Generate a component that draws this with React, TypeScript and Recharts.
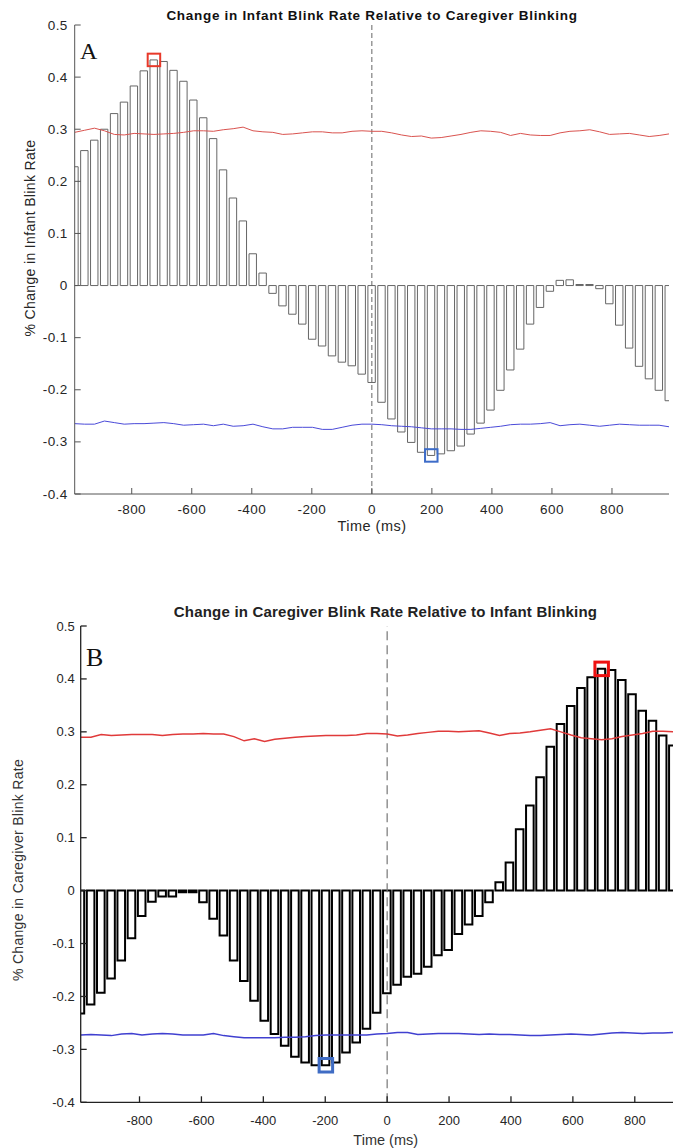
import React from 'react';
import { ComposedChart, Bar, Line, XAxis, YAxis, ReferenceLine, ReferenceDot } from 'recharts';

// Bin centres (ms)
const times = [
  -990, -957, -924, -891, -858, -825, -792, -759, -726, -693, -660, -627, -594, -561, -528, -495,
  -462, -429, -396, -363, -330, -297, -264, -231, -198, -165, -132, -99, -66, -33, 0, 33, 66, 99,
  132, 165, 198, 231, 264, 297, 330, 363, 396, 429, 462, 495, 528, 561, 594, 627, 660, 693, 726,
  759, 792, 825, 858, 891, 924, 957, 990,
];

// Panel A: infant blink rate relative to caregiver blinking
const infantChange = [
  0.228, 0.259, 0.279, 0.3, 0.33, 0.352, 0.383, 0.412, 0.433, 0.43, 0.413, 0.392, 0.356, 0.322, 0.282, 0.222,
  0.168, 0.124, 0.061, 0.024, -0.015, -0.039, -0.055, -0.074, -0.103, -0.116, -0.135, -0.147, -0.154, -0.17,
  -0.186, -0.224, -0.256, -0.281, -0.301, -0.32, -0.326, -0.323, -0.317, -0.308, -0.285, -0.264, -0.239,
  -0.201, -0.162, -0.122, -0.074, -0.042, -0.011, 0.01, 0.011, 0.002, 0.002, -0.006, -0.035, -0.076, -0.12,
  -0.155, -0.179, -0.201, -0.221,
];
const infantUpper = [
  0.294, 0.298, 0.302, 0.297, 0.29, 0.289, 0.292, 0.291, 0.29, 0.291, 0.292, 0.294, 0.297, 0.297, 0.296, 0.299,
  0.301, 0.304, 0.297, 0.295, 0.294, 0.29, 0.291, 0.293, 0.295, 0.295, 0.293, 0.293, 0.296, 0.297, 0.296, 0.296,
  0.293, 0.289, 0.286, 0.287, 0.283, 0.284, 0.287, 0.29, 0.294, 0.297, 0.296, 0.294, 0.288, 0.292, 0.289, 0.288,
  0.288, 0.293, 0.296, 0.297, 0.299, 0.295, 0.29, 0.291, 0.292, 0.289, 0.286, 0.288, 0.291,
];
const infantLower = [
  -0.265, -0.266, -0.266, -0.26, -0.263, -0.266, -0.265, -0.265, -0.264, -0.263, -0.265, -0.268, -0.267, -0.266,
  -0.269, -0.266, -0.27, -0.269, -0.266, -0.271, -0.275, -0.275, -0.272, -0.272, -0.272, -0.276, -0.276, -0.272,
  -0.268, -0.266, -0.266, -0.267, -0.269, -0.27, -0.271, -0.273, -0.275, -0.275, -0.275, -0.276, -0.276, -0.274,
  -0.272, -0.27, -0.267, -0.266, -0.266, -0.265, -0.263, -0.269, -0.267, -0.266, -0.268, -0.27, -0.268, -0.266,
  -0.267, -0.268, -0.268, -0.268, -0.271,
];
const infantPeak = [-726, 0.433];
const infantTrough = [198, -0.326];

// Panel B: caregiver blink rate relative to infant blinking
const caregiverChange = [
  -0.232, -0.215, -0.193, -0.166, -0.132, -0.09, -0.048, -0.021, -0.011, -0.011, -0.003, -0.003, -0.022, -0.053,
  -0.085, -0.132, -0.171, -0.208, -0.246, -0.271, -0.293, -0.314, -0.325, -0.33, -0.33, -0.325, -0.306, -0.287,
  -0.261, -0.231, -0.194, -0.178, -0.163, -0.157, -0.144, -0.122, -0.112, -0.082, -0.064, -0.048, -0.022, 0.016,
  0.053, 0.116, 0.161, 0.214, 0.272, 0.315, 0.349, 0.383, 0.403, 0.419, 0.417, 0.398, 0.371, 0.34, 0.321, 0.293,
  0.274, 0.256, 0.24,
];
const caregiverUpper = [
  0.29, 0.29, 0.295, 0.293, 0.294, 0.295, 0.295, 0.295, 0.293, 0.295, 0.296, 0.296, 0.297, 0.296, 0.296, 0.291,
  0.283, 0.287, 0.282, 0.286, 0.288, 0.29, 0.291, 0.292, 0.293, 0.293, 0.293, 0.294, 0.297, 0.297, 0.296, 0.292,
  0.294, 0.297, 0.299, 0.301, 0.301, 0.3, 0.301, 0.302, 0.298, 0.293, 0.297, 0.298, 0.3, 0.303, 0.306, 0.3, 0.294,
  0.289, 0.287, 0.285, 0.287, 0.291, 0.294, 0.297, 0.301, 0.301, 0.3, 0.3, 0.3,
];
const caregiverLower = [
  -0.273, -0.272, -0.273, -0.274, -0.271, -0.27, -0.273, -0.271, -0.27, -0.271, -0.273, -0.273, -0.273, -0.27,
  -0.274, -0.276, -0.278, -0.278, -0.278, -0.278, -0.277, -0.277, -0.276, -0.274, -0.273, -0.273, -0.273, -0.273,
  -0.273, -0.271, -0.27, -0.268, -0.268, -0.272, -0.271, -0.27, -0.27, -0.27, -0.271, -0.272, -0.271, -0.272,
  -0.272, -0.273, -0.274, -0.274, -0.273, -0.272, -0.271, -0.272, -0.273, -0.271, -0.269, -0.268, -0.269, -0.27,
  -0.269, -0.269, -0.268, -0.268, -0.268,
];
const caregiverPeak = [693, 0.419];
const caregiverTrough = [-198, -0.33];

const xTicks = [-800, -600, -400, -200, 0, 200, 400, 600, 800];
const yTicks = [-0.4, -0.3, -0.2, -0.1, 0, 0.1, 0.2, 0.3, 0.4, 0.5];

const titleA = 'Change in Infant Blink Rate Relative to Caregiver Blinking';
const titleB = 'Change in Caregiver Blink Rate Relative to Infant Blinking';
const yLabelA = '% Change in Infant Blink Rate';
const yLabelB = '% Change in Caregiver Blink Rate';
const xLabel = 'Time (ms)';

const dataA = times.map((t, i) => ({ t, change: infantChange[i], upper: infantUpper[i], lower: infantLower[i] }));
const dataB = times.map((t, i) => ({ t, change: caregiverChange[i], upper: caregiverUpper[i], lower: caregiverLower[i] }));

const SANS = '"Liberation Sans", Arial, Helvetica, sans-serif';
const SERIF = '"Liberation Serif", "Times New Roman", serif';

const fmtY = (v: number) => (v === 0 ? '0' : v.toFixed(1));

type TickStyle = { axis: string; w: number; len: number; gap: number; fs: number; ls: number; dy: number };

const makeYTick = (s: TickStyle) => (props: any) => {
  const { x, y, payload } = props;
  return (
    <g>
      <line x1={x} x2={x + s.len} y1={y} y2={y} stroke={s.axis} strokeWidth={s.w} />
      <text x={x - s.gap} y={y} textAnchor="end" dominantBaseline="central" fontSize={s.fs} letterSpacing={s.ls} fill="#262626" fontFamily={SANS}>
        {fmtY(payload.value)}
      </text>
    </g>
  );
};

const makeXTick = (s: TickStyle) => (props: any) => {
  const { x, y, payload } = props;
  return (
    <g>
      <line x1={x} x2={x} y1={y} y2={y - s.len} stroke={s.axis} strokeWidth={s.w} />
      <text x={x} y={y + s.dy} textAnchor="middle" dominantBaseline="central" fontSize={s.fs} letterSpacing={s.ls} fill="#262626" fontFamily={SANS}>
        {String(payload.value)}
      </text>
    </g>
  );
};

const makeSquare = (color: string, size: number, sw: number) => (props: any) => {
  const { cx, cy } = props;
  return <rect x={cx - size / 2} y={cy - size / 2} width={size} height={size} fill="none" stroke={color} strokeWidth={sw} />;
};

const styleA: TickStyle = { axis: '#555', w: 1, len: 6, gap: 7, fs: 13.5, ls: 0.4, dy: 15 };
const styleB: TickStyle = { axis: '#222', w: 1.3, len: 6, gap: 6, fs: 13, ls: 0, dy: 18 };

export default function App() {
  return (
    <div style={{ position: 'relative', width: 673, height: 1140, overflow: 'hidden', background: '#fff' }}>
      <div style={{ position: 'absolute', left: 0, top: 0 }}>
        <ComposedChart width={673} height={540} data={dataA} margin={{ top: 17, right: 12, bottom: 24, left: 26.7 }}>
          <XAxis
            dataKey="t"
            type="number"
            domain={[-990, 990]}
            allowDataOverflow
            ticks={xTicks}
            interval={0}
            tickSize={0}
            tickMargin={0}
            tickLine={false}
            tick={makeXTick(styleA)}
            axisLine={{ stroke: '#555', strokeWidth: 1 }}
            height={30}
          />
          <YAxis
            type="number"
            domain={[-0.4, 0.5]}
            allowDataOverflow
            ticks={yTicks}
            interval={0}
            tickSize={0}
            tickMargin={0}
            tickLine={false}
            tick={makeYTick(styleA)}
            axisLine={{ stroke: '#555', strokeWidth: 1 }}
            width={40}
          />
          <Bar dataKey="change" barSize={7.4} fill="#fff" stroke="#666" strokeWidth={1} isAnimationActive={false} />
          <ReferenceLine x={0} stroke="#666" strokeWidth={1} strokeDasharray="5 3" />
          <Line dataKey="upper" type="linear" stroke="#d9534f" strokeWidth={1} dot={false} isAnimationActive={false} />
          <Line dataKey="lower" type="linear" stroke="#4a4ad8" strokeWidth={1} dot={false} isAnimationActive={false} />
          <ReferenceDot x={infantPeak[0]} y={infantPeak[1]} r={7} shape={makeSquare('#e8392a', 12.5, 2)} />
          <ReferenceDot x={infantTrough[0]} y={infantTrough[1]} r={7} shape={makeSquare('#3d6cc8', 12.5, 2)} />
        </ComposedChart>
      </div>
      <div style={{ position: 'absolute', left: 0, top: 580 }}>
        <ComposedChart width={700} height={560} data={dataB} margin={{ top: 38, right: 14.4, bottom: 15.7, left: 32.7 }}>
          <XAxis
            dataKey="t"
            type="number"
            domain={[-990, 990]}
            allowDataOverflow
            ticks={xTicks}
            interval={0}
            tickSize={0}
            tickMargin={0}
            tickLine={false}
            tick={makeXTick(styleB)}
            axisLine={{ stroke: '#222', strokeWidth: 1.3 }}
            height={30}
          />
          <YAxis
            type="number"
            domain={[-0.4, 0.5]}
            allowDataOverflow
            ticks={yTicks}
            interval={0}
            tickSize={0}
            tickMargin={0}
            tickLine={false}
            tick={makeYTick(styleB)}
            axisLine={{ stroke: '#222', strokeWidth: 1.3 }}
            width={40}
          />
          <Bar dataKey="change" barSize={7.6} fill="#fff" stroke="#000" strokeWidth={2} isAnimationActive={false} />
          <ReferenceLine x={0} stroke="#777" strokeWidth={1.2} strokeDasharray="9 5" />
          <Line dataKey="upper" type="linear" stroke="#e03a3a" strokeWidth={1.5} dot={false} isAnimationActive={false} />
          <Line dataKey="lower" type="linear" stroke="#4040d0" strokeWidth={1.5} dot={false} isAnimationActive={false} />
          <ReferenceDot x={caregiverPeak[0]} y={caregiverPeak[1]} r={8} shape={makeSquare('#ee1111', 13.5, 3)} />
          <ReferenceDot x={caregiverTrough[0]} y={caregiverTrough[1]} r={8} shape={makeSquare('#3f6cc4', 13.5, 3)} />
        </ComposedChart>
      </div>
      <svg width={673} height={1140} style={{ position: 'absolute', left: 0, top: 0, pointerEvents: 'none' }}>
        <text x={364} y={11.5} textAnchor="middle" fontSize={13.5} letterSpacing={0.7} fontWeight="bold" fill="#111" fontFamily={SANS}>{titleA}</text>
        <text x={72} y={51} fontSize={24} fill="#111" fontFamily={SERIF}>A</text>
        <text transform="translate(27,230) rotate(-90)" textAnchor="middle" fontSize={14} letterSpacing={0.35} fill="#262626" fontFamily={SANS}>{yLabelA}</text>
        <text x={364} y={523} textAnchor="middle" fontSize={14.5} letterSpacing={0.5} fill="#262626" fontFamily={SANS}>{xLabel}</text>
        <text x={377.5} y={609} textAnchor="middle" fontSize={15} letterSpacing={0.2} fontWeight="bold" fill="#222" fontFamily={SANS}>{titleB}</text>
        <text x={78} y={658} fontSize={26} fill="#111" fontFamily={SERIF}>B</text>
        <text transform="translate(15,862) rotate(-90)" textAnchor="middle" fontSize={14} letterSpacing={0.3} fill="#333" fontFamily={SANS}>{yLabelB}</text>
        <text x={377.7} y={1137} textAnchor="middle" fontSize={14.5} fill="#333" fontFamily={SANS}>{xLabel}</text>
      </svg>
    </div>
  );
}
